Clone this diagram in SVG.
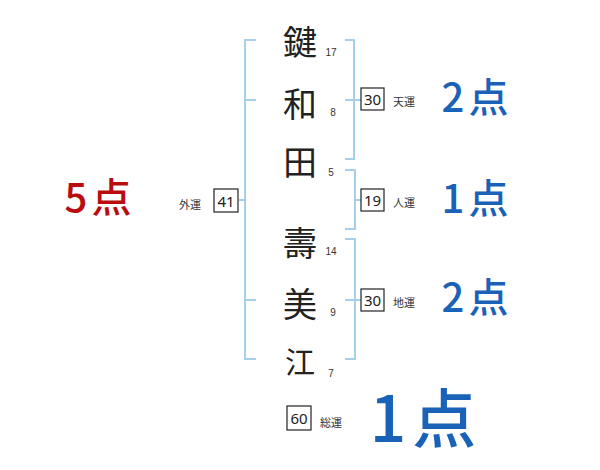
<svg xmlns="http://www.w3.org/2000/svg" width="600" height="470" viewBox="0 0 600 470">
<style>
.br{fill:none;stroke:#a6cfec;stroke-width:2}
.ch{font-family:"Noto Sans CJK JP","Noto Sans",sans-serif;font-size:34px;fill:#222;text-anchor:middle;dominant-baseline:central}
.st{font-family:"Liberation Sans",sans-serif;font-size:10px;fill:#333;text-anchor:middle;dominant-baseline:central}
.box{fill:#fff;stroke:#222;stroke-width:1.2}
.bn{font-family:"Noto Sans","Liberation Sans",sans-serif;font-size:15px;fill:#222;text-anchor:middle;dominant-baseline:central}
.lb{font-family:"Noto Sans CJK JP",sans-serif;font-size:11px;fill:#333;dominant-baseline:central}
.pt{font-family:"Noto Sans CJK JP","Noto Sans",sans-serif;font-size:40px;font-weight:500;fill:#1a62b7;text-anchor:middle;dominant-baseline:central;letter-spacing:4px}
</style>
<g id="connectors">
<path class="br" d="M256,40 H245 V359 H256 M245,100 H256 M245,300 H256 M245,200 H239"/>
<path class="br" d="M345,40 H354 V159 H345 M345,100 H354 M354,100 H361"/>
<path class="br" d="M345,170 H355 V229 H345 M355,200 H361"/>
<path class="br" d="M345,239 H355 V359 H345 M345,300 H355 M355,300 H361"/>
</g>
<g id="name">
<text class="ch" x="300" y="40">鍵</text>
<text class="ch" x="300" y="102">和</text>
<text class="ch" x="300" y="160">田</text>
<text class="ch" x="300" y="241">壽</text>
<text class="ch" x="300" y="302">美</text>
<text class="ch" x="300" y="360" style="font-size:30px">江</text>
<text class="st" x="331" y="52">17</text>
<text class="st" x="333" y="112">8</text>
<text class="st" x="331" y="172">5</text>
<text class="st" x="331" y="251">14</text>
<text class="st" x="333" y="312">9</text>
<text class="st" x="331" y="373">7</text>
</g>
<g id="tenun">
<rect class="box" x="361" y="88" width="23" height="22"/>
<text class="bn" x="372.5" y="99">30</text>
<text class="lb" x="393" y="101">天運</text>
<text class="pt" x="477" y="95">2点</text>
</g>
<g id="jinun">
<rect class="box" x="361" y="189" width="23" height="22"/>
<text class="bn" x="372.5" y="200">19</text>
<text class="lb" x="393" y="202">人運</text>
<text class="pt" x="477" y="196">1点</text>
</g>
<g id="chiun">
<rect class="box" x="361" y="289" width="23" height="22"/>
<text class="bn" x="372.5" y="300">30</text>
<text class="lb" x="393" y="302">地運</text>
<text class="pt" x="477" y="295">2点</text>
</g>
<g id="gaiun">
<rect class="box" x="214" y="189" width="24" height="23"/>
<text class="bn" x="226" y="200.5">41</text>
<text class="lb" x="179" y="204">外運</text>
<text class="pt" x="100" y="195" style="fill:#b90d0d">5点</text>
</g>
<g id="souun">
<rect class="box" x="287" y="406" width="24" height="24"/>
<text class="bn" x="299" y="418">60</text>
<text class="lb" x="320" y="422">総運</text>
<text class="pt" x="426" y="414" style="font-size:64px;letter-spacing:6px">1点</text>
</g>
</svg>
